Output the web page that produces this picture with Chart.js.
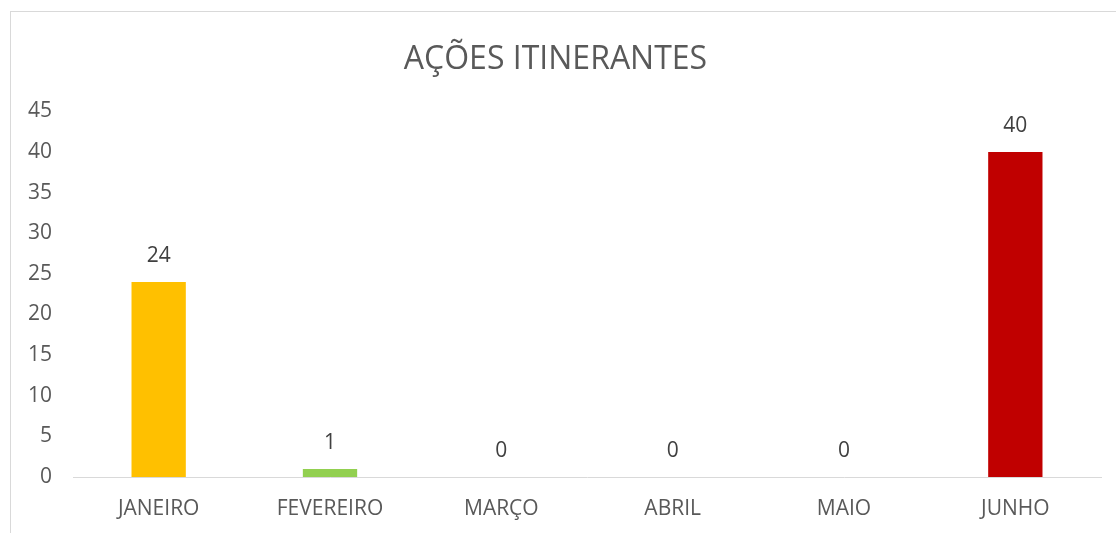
<!DOCTYPE html>
<html>
<head>
<meta charset="utf-8">
<script src="https://cdn.jsdelivr.net/npm/chart.js@4.4.1/dist/chart.umd.min.js"></script>
<style>
  html, body { margin: 0; padding: 0; background: #fff; overflow: hidden; }
  #wrap { position: relative; width: 1116px; height: 533px; }
  #frame { position: absolute; left: 10px; top: 11px; width: 1200px; height: 600px;
           border-top: 1px solid #d9d9d9; border-left: 1px solid #d9d9d9; }
  canvas { position: absolute; left: 0; top: 0; }
</style>
</head>
<body>
<div id="wrap">
  <div id="frame"></div>
  <canvas id="c" width="1116" height="533"></canvas>
</div>
<script>
const titleText = "AÇÕES ITINERANTES";
const categories = ["JANEIRO", "FEVEREIRO", "MARÇO", "ABRIL", "MAIO", "JUNHO"];
const values = [24, 1, 0, 0, 0, 40];
const barColors = ["#FFC000", "#92D050", "#5B9BD5", "#ED7D31", "#A5A5A5", "#C00000"];
const yTicks = [0, 5, 10, 15, 20, 25, 30, 35, 40, 45];

const FONT = "'Open Sans', 'Liberation Sans', sans-serif";

const valueLabels = {
  id: 'valueLabels',
  afterDatasetsDraw(chart) {
    const ctx = chart.ctx;
    const meta = chart.getDatasetMeta(0);
    ctx.save();
    ctx.font = "21px " + FONT;
    ctx.fillStyle = "#404040";
    ctx.textAlign = "center";
    ctx.textBaseline = "middle";
    meta.data.forEach((bar, i) => {
      ctx.fillText(String(values[i]), bar.x, bar.y - 26);
    });
    ctx.restore();
  }
};

new Chart(document.getElementById('c'), {
  type: 'bar',
  data: {
    labels: categories,
    datasets: [{
      data: values,
      backgroundColor: barColors,
      borderWidth: 0,
      categoryPercentage: 1,
      barPercentage: 0.317
    }]
  },
  options: {
    responsive: false,
    animation: false,
    layout: { padding: { left: 10, right: 15, top: 0, bottom: 0 } },
    plugins: {
      legend: { display: false },
      tooltip: { enabled: false },
      title: {
        display: true,
        text: titleText,
        color: "#595959",
        font: { family: FONT, size: 32, weight: 'normal', lineHeight: 1.2 },
        padding: { top: 41, bottom: 32 }
      }
    },
    scales: {
      x: {
        afterFit(scale) { scale.height = 56; },
        grid: { display: false, drawTicks: false },
        border: { display: true, color: "#d9d9d9", width: 1 },
        ticks: { color: "#595959", font: { family: FONT, size: 21 }, padding: 19, maxRotation: 0 }
      },
      y: {
        min: 0, max: 45,
        afterFit(scale) { scale.width = 63; },
        afterBuildTicks(scale) { scale.ticks = yTicks.map(v => ({ value: v })); },
        grid: { display: false, drawTicks: false },
        border: { display: false },
        ticks: { color: "#595959", font: { family: FONT, size: 21 }, padding: 21 }
      }
    }
  },
  plugins: [valueLabels]
});
</script>
</body>
</html>
